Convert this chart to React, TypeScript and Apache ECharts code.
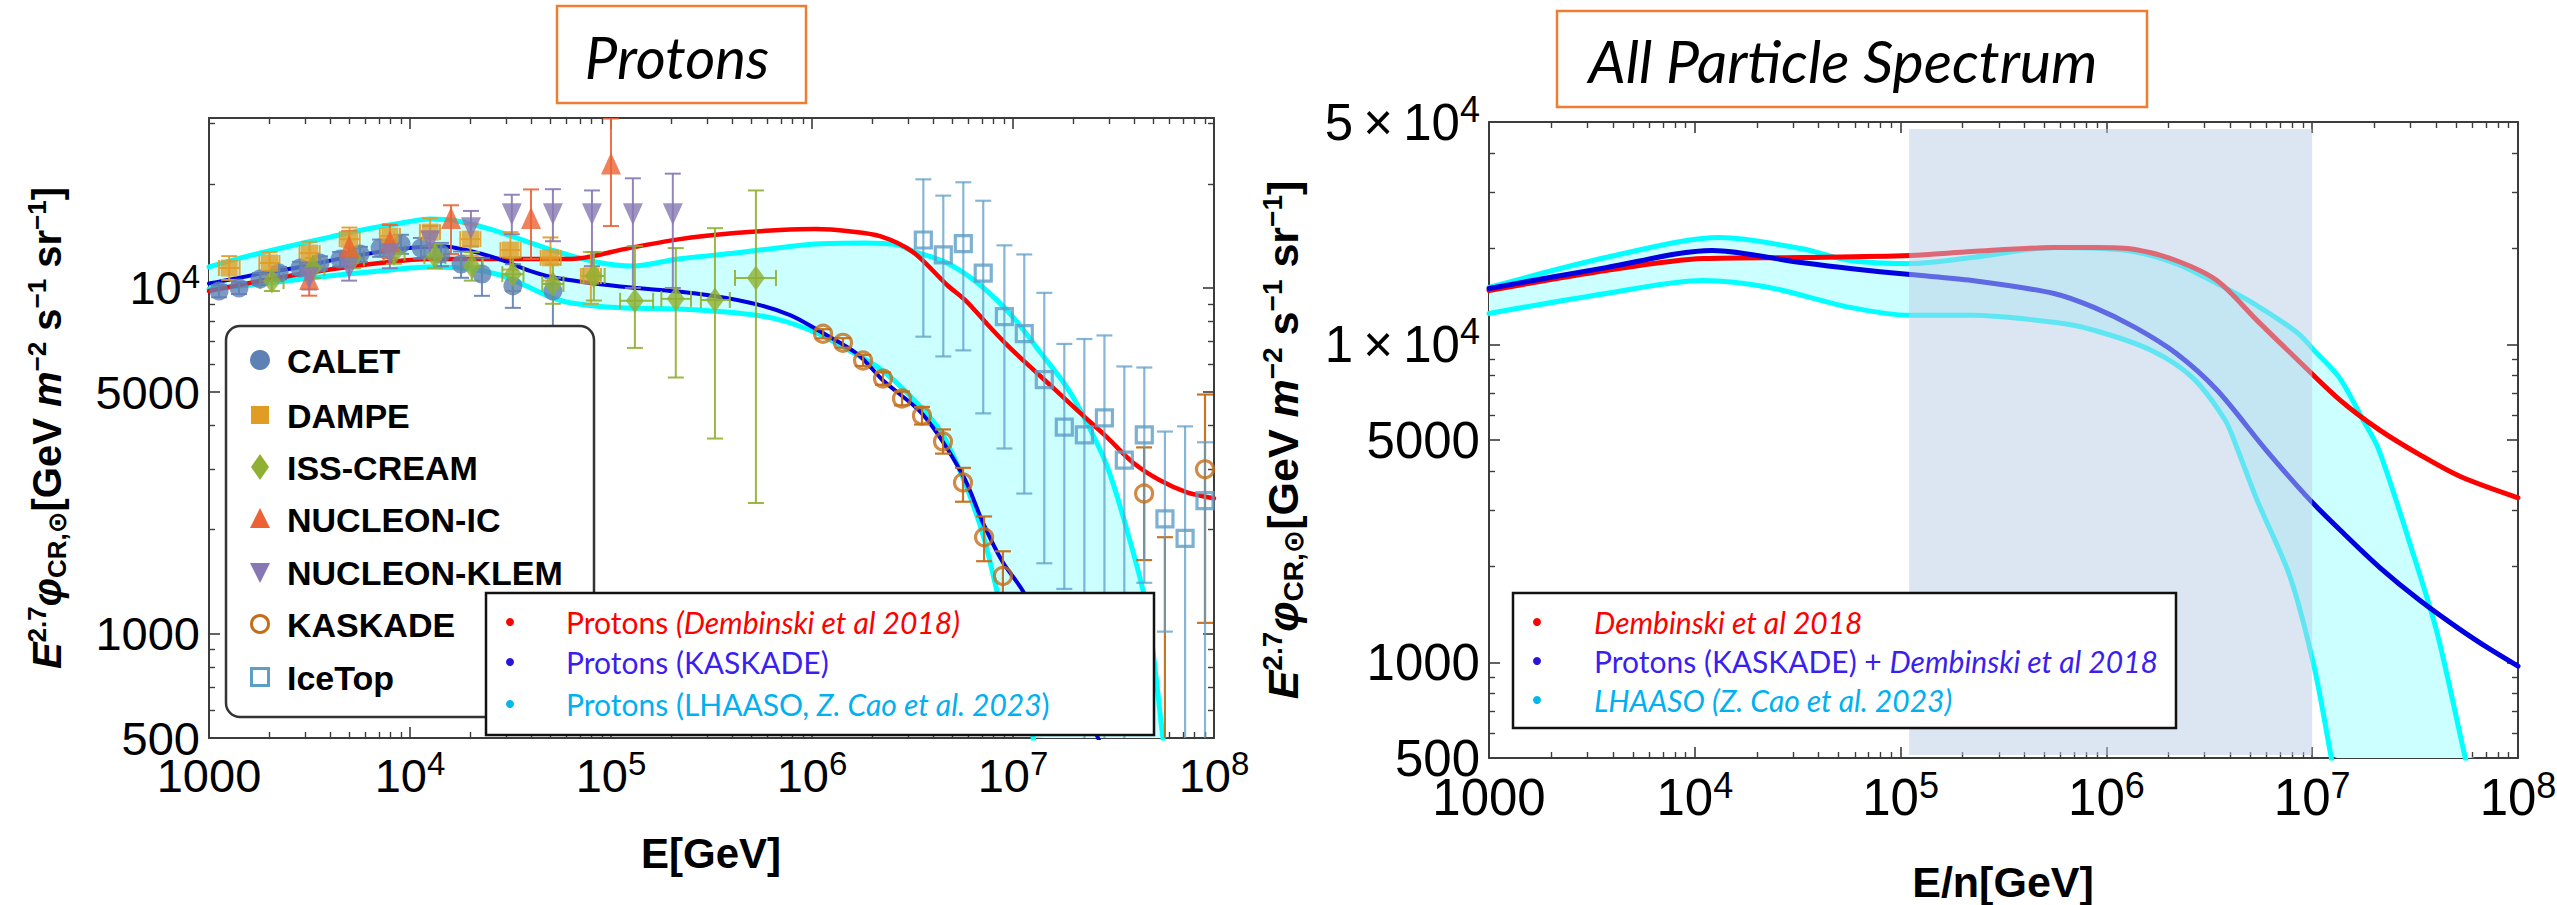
import React, { useEffect, useRef } from 'react';
import * as echarts from 'echarts';

// ---------------- axis ticks ----------------
const energyMajor = [1e3, 1e4, 1e5, 1e6, 1e7, 1e8];
const energyMinorMultipliers = [2, 3, 4, 5, 6, 7, 8, 9];
const protonFluxLabels = [500, 1000, 5000, 10000];
const protonFluxMajor = [1000, 5000, 10000];
const protonFluxMinor = [600, 700, 800, 900, 2000, 3000, 4000, 6000, 7000, 8000, 9000, 20000, 30000];
const allFluxLabels = [500, 1000, 5000, 10000, 50000];
const allFluxMajor = [1000, 5000, 10000];
const allFluxMinor = [600, 700, 800, 900, 2000, 3000, 4000, 6000, 7000, 8000, 9000, 20000, 30000, 40000];

// ---------------- left panel: protons ----------------
const protonDembinski = [
  [1000, 9800], [1795, 10470], [3565, 11200], [7100, 11810], [12590, 12130], [22800, 12130],
  [63300, 12130], [123000, 13040], [220000, 13840], [414000, 14410], [693000, 14700],
  [1.047e6, 14800], [1.528e6, 14590], [2.18e6, 14120], [3.18e6, 12700], [4.7e6, 10200],
  [5.9e6, 9120], [7.43e6, 7870], [9.33e6, 6850], [1.216e7, 5920], [1.58e7, 5150],
  [2.15e7, 4360], [2.94e7, 3700], [3.95e7, 3130], [5.38e7, 2780], [7.34e7, 2566], [1e8, 2465],
];
const protonKaskadeFit = [
  [1000, 10300], [1800, 11000], [2840, 11500], [5000, 12300], [8900, 12950], [14300, 13200],
  [19900, 12800], [28000, 12100], [39500, 11200], [52600, 10700], [111000, 10100],
  [259000, 9650], [498000, 9050], [778000, 8350], [1.05e6, 7600], [1.68e6, 6450],
  [2.26e6, 5400], [3.57e6, 4300], [5.64e6, 2870], [7.1e6, 2090], [8.9e6, 1610],
  [1.12e7, 1330], [1.71e7, 815], [2.65e7, 500], [3.5e7, 330],
];
const protonLhaasoUpper = [
  [1000, 11500], [1426, 12200], [2415, 13140], [4000, 14030], [6110, 14800], [8910, 15390],
  [12590, 15820], [17150, 15620], [25000, 14800], [35250, 13850], [52600, 12790],
  [84100, 11890], [128500, 11570], [215000, 12120], [414000, 12620], [1.047e6, 13400],
  [1.835e6, 13490], [2.68e6, 13310], [3.18e6, 12790], [4.7e6, 11810], [6.86e6, 10200],
  [1e7, 8240], [1.36e7, 6540], [1.86e7, 5150], [2.34e7, 4060], [2.94e7, 3050],
  [3.69e7, 1995], [4.64e7, 1180], [5.57e7, 501], [6.0e7, 350],
];
const protonLhaasoLower = [
  [1000, 9930], [1795, 10270], [3565, 10760], [7100, 11200], [12590, 11500], [19900, 11350],
  [28060, 10900], [36060, 10270], [49800, 9420], [63300, 9050], [110900, 8760],
  [215000, 8700], [414000, 8480], [662000, 8140], [1.047e6, 7420], [1.545e6, 6580],
  [2.18e6, 5840], [3.07e6, 4880], [4.34e6, 3870], [5.64e6, 2820], [7.1e6, 1930],
  [8.32e6, 1330], [1.023e7, 820], [1.259e7, 501], [1.44e7, 355],
];

// measurements: [E, flux, low, high, (Elow, Ehigh)]
const calet = [
  [1122, 9800, 9400, 10200], [1410, 10000, 9600, 10400], [1795, 10620, 10200, 11050],
  [2230, 11050, 10600, 11500], [2838, 11420, 10950, 11900], [3565, 11810, 11300, 12350],
  [4490, 12130, 11550, 12700], [5640, 12530, 11900, 13150], [7100, 13040, 12300, 13800],
  [9020, 13390, 12550, 14250], [11350, 13040, 12150, 13950], [14260, 12530, 11550, 13500],
  [17950, 11720, 10700, 12750], [22800, 10970, 9490, 12190], [32500, 10140, 8760, 11710],
  [51400, 9800, 7000, 10690],
];
const dampe = [
  [1260, 11420, 10550, 12360, 1120, 1420], [2000, 11810, 10950, 12700, 1780, 2240],
  [3160, 12610, 11700, 13600, 2820, 3550], [5000, 13840, 12800, 14950, 4470, 5620],
  [7940, 14130, 13000, 15300, 7080, 8910], [12600, 14500, 13200, 15900, 11200, 14100],
  [20000, 13840, 12400, 15300, 17800, 22400], [31600, 12870, 11300, 14500, 28200, 35500],
  [50000, 12220, 10500, 14000, 44700, 56200], [79400, 10830, 9000, 12700, 70800, 89100],
];
const issCream = [
  [2056, 10470, 9800, 11200, 1800, 2350], [3290, 11420, 10700, 12200, 2900, 3750],
  [5200, 12190, 11400, 13050, 4600, 5900], [8320, 12610, 11750, 13550, 7400, 9400],
  [13300, 12360, 11400, 13400, 11800, 15000], [20300, 11560, 10500, 12700, 18000, 23000],
  [32500, 10960, 9800, 12250, 28800, 36700], [51400, 10270, 9000, 11700, 45500, 58000],
  [82200, 10830, 9200, 12700, 72800, 93000], [131500, 9180, 6710, 13210, 111000, 162000],
  [210000, 9300, 5510, 13040, 178000, 250000], [329000, 9230, 3670, 14890, 280000, 390000],
  [526000, 10690, 2390, 19140, 414000, 662000],
];
const nucleonIC = [
  [3150, 10620, 9500, 11900], [4980, 13210, 11900, 14600], [7940, 13650, 12200, 15200],
  [16000, 15920, 12530, 17340], [40000, 15920, 12130, 19270], [100000, 22900, 15100, 30900],
];
const nucleonKLEM = [
  [3150, 10690, 9900, 11500], [4980, 11420, 10500, 12400], [7940, 12530, 11400, 13700],
  [12600, 13650, 12300, 15100], [20100, 14890, 13200, 16700], [32100, 16330, 14300, 18600],
  [51400, 16330, 13650, 19300], [80400, 16330, 11560, 19140], [128500, 16330, 10000, 20750],
  [203000, 16330, 10000, 21400],
];
const kaskade = [
  [1.135e6, 7370, 7150, 7600], [1.426e6, 6940, 6720, 7160], [1.795e6, 6170, 5950, 6400],
  [2.255e6, 5470, 5250, 5700], [2.805e6, 4790, 4580, 5020], [3.525e6, 4275, 4030, 4530],
  [4.485e6, 3600, 3320, 3900], [5.64e6, 2740, 2410, 3020], [7.18e6, 1903, 1622, 2185],
  [8.91e6, 1470, 1304, 1733], [1.12e7, 1097, 950, 1260], [1.41e7, 815, 680, 960],
  [4.49e7, 2545, 1634, 3460], [5.7e7, 380, 250, 1903], [9.02e7, 2990, 1076, 4920],
];
const iceTop = [
  [3.58e6, 13760, 7230, 20610], [4.5e6, 12460, 6340, 18490], [5.66e6, 13430, 6600, 20210],
  [7.11e6, 11040, 4340, 17870], [9.06e6, 8260, 3435, 13280], [1.138e7, 7375, 2545, 12500],
  [1.431e7, 5430, 1600, 9680], [1.8e7, 3960, 1349, 6890], [2.265e7, 3762, 300, 7120],
  [2.85e7, 4210, 300, 7290], [3.58e7, 3181, 300, 5930], [4.5e7, 3762, 1405, 5890],
  [5.7e7, 2150, 1015, 3845], [7.18e7, 1888, 300, 3980], [9.02e7, 2427, 300, 3580],
];

// ---------------- right panel: all particle ----------------
const allDembinski = [
  [1000, 14760], [3703, 17060], [11010, 18610], [32800, 18750], [111200, 19010],
  [222400, 19570], [556000, 20140], [870000, 20140], [1.377e6, 19860], [2.18e6, 18340],
  [3.445e6, 15870], [5.39e6, 11890], [8.53e6, 8910], [1.365e7, 6675], [2.13e7, 5370],
  [3.34e7, 4490], [5.28e7, 3830], [1e8, 3290],
];
const allKaskadeDembinski = [
  [1000, 14980], [3703, 17420], [12120, 19710], [32800, 18070], [56800, 17300],
  [111200, 16560], [222400, 15870], [556000, 14450], [870000, 13060], [1.377e6, 11300],
  [2.18e6, 9370], [3.445e6, 7180], [5.97e6, 4650], [9.75e6, 3240], [1.443e7, 2518],
  [2.13e7, 1986], [3.34e7, 1564], [5.22e7, 1269], [7.31e7, 1099], [1e8, 972],
];
const allLhaasoUpper = [
  [1000, 15090], [3703, 18740], [13260, 21650], [32800, 20000], [56800, 18340],
  [111200, 17940], [222400, 18750], [556000, 20140], [1.259e6, 19710], [2.18e6, 17940],
  [3.445e6, 15520], [5.39e6, 13240], [8.53e6, 10830], [1.02e7, 9580], [1.35e7, 7880],
  [1.766e7, 5780], [2.11e7, 4650], [3.05e7, 2260], [4.04e7, 1242], [5.52e7, 507], [6.18e7, 372],
];
const allLhaasoLower = [
  [1000, 12500], [3703, 14450], [11010, 15870], [22940, 15090], [56800, 13060],
  [111200, 12330], [222400, 12330], [556000, 11720], [870000, 11070], [1.648e6, 9580],
  [2.606e6, 7880], [3.77e6, 5780], [4.31e6, 4720], [5.39e6, 3240], [7.8e6, 1860],
  [1.02e7, 972], [1.234e7, 507], [1.32e7, 398],
];
const shadedEnergy = [1.1e5, 1e7];
const shadedFlux = [511, 47500];

// ---------------- styling ----------------
const FONT = "'Liberation Sans', Arial, 'DejaVu Sans', sans-serif";
const CAL = "Lato, 'Open Sans', 'DejaVu Sans', sans-serif";
const FRAME = '#3c3c3c';
const RED = '#ff0000';
const BLUE = '#0000e0';
const CYAN = '#00ffff';
const CYAN_FILL = '#ccffff';
const C_CALET = '#5E81B5';
const C_DAMPE = '#E19C24';
const C_ISS = '#8FB032';
const C_NIC = '#EB6235';
const C_NKL = '#8778B3';
const C_KAS = '#C56E1A';
const C_ICE = '#5D9EC7';

function labelRich(fs: number) {
  return {
    b: { fontSize: fs, fontFamily: FONT, lineHeight: Math.round(fs * 1.2), color: '#000' },
    s: { fontSize: Math.round(fs * 0.7), fontFamily: FONT, lineHeight: Math.round(fs * 0.6), verticalAlign: 'top', color: '#000' },
  };
}

function energyFormatter(v: number) {
  const p = Math.round(Math.log10(v));
  return p === 3 ? '{b|1000}' : '{b|10}{s|' + p + '}';
}

function axisSet(dim: string, gridIndex: number, min: number, max: number, majors: number[], minors: number[],
  labels: number[], formatter: any, fs: number, margin: number) {
  const common = {
    type: 'log', logBase: 10, gridIndex, min, max,
    splitLine: { show: false },
  };
  const sides = dim === 'x' ? ['bottom', 'top'] : ['left', 'right'];
  const out: any[] = [];
  sides.forEach((side, i) => {
    out.push({
      ...common, position: side,
      axisLine: { show: true, onZero: false, lineStyle: { color: FRAME, width: 2 } },
      axisTick: { show: true, inside: true, length: 11, customValues: majors, lineStyle: { color: FRAME, width: 1.6 } },
      axisLabel: i === 0
        ? { show: true, customValues: labels, formatter, rich: labelRich(fs), margin, color: '#000', fontFamily: FONT, fontSize: fs, showMinLabel: true, showMaxLabel: true, hideOverlap: false }
        : { show: false },
    });
    out.push({
      ...common, position: side,
      axisLine: { show: false, onZero: false },
      axisTick: { show: true, inside: true, length: 6, customValues: minors, lineStyle: { color: FRAME, width: 1.4 } },
      axisLabel: { show: false },
    });
  });
  return out;
}

function lineSeries(name: string, data: number[][], color: string, width: number, ax: number, z: number) {
  return {
    type: 'line', name, data, xAxisIndex: ax, yAxisIndex: ax, showSymbol: false, symbol: 'none',
    smooth: 0.3, clip: true, z, silent: true,
    lineStyle: { color, width, cap: 'round', join: 'round' },
  };
}

function bandSeries(upper: number[][], lower: number[][], ax: number) {
  return {
    type: 'custom', xAxisIndex: ax, yAxisIndex: ax, z: 1, silent: true, clip: true,
    data: [upper[0]],
    renderItem: (params: any, api: any) => {
      const cs = params.coordSys;
      const pts = upper.map((p) => api.coord(p)).concat(lower.slice().reverse().map((p) => api.coord(p)));
      const clipped = echarts.graphic.clipPointsByRect(pts, { x: cs.x, y: cs.y, width: cs.width, height: cs.height } as any);
      return { type: 'polygon', shape: { points: clipped }, style: { fill: CYAN_FILL } };
    },
  };
}

function errorBars(name: string, data: number[][], color: string, opacity: number, lw: number) {
  return {
    type: 'custom', name, xAxisIndex: 0, yAxisIndex: 0, z: 3, silent: true, clip: true,
    data,
    renderItem: (params: any, api: any) => {
      const cs = params.coordSys;
      const x0 = cs.x, x1 = cs.x + cs.width, y0 = cs.y, y1 = cs.y + cs.height;
      const e = api.value(0), f = api.value(1), lo = api.value(2), hi = api.value(3);
      const pHi = api.coord([e, hi]);
      const pLo = api.coord([e, lo]);
      const cx = pHi[0];
      const style = { stroke: color, lineWidth: lw, opacity };
      const clampY = (v: number) => Math.min(y1, Math.max(y0, v));
      const children: any[] = [];
      const cap = 8;
      if (cx >= x0 && cx <= x1) {
        children.push({ type: 'line', shape: { x1: cx, y1: clampY(pHi[1]), x2: cx, y2: clampY(pLo[1]) }, style });
        if (pHi[1] >= y0 - 1 && pHi[1] <= y1) children.push({ type: 'line', shape: { x1: cx - cap, y1: pHi[1], x2: cx + cap, y2: pHi[1] }, style });
        if (pLo[1] >= y0 && pLo[1] <= y1 + 1) children.push({ type: 'line', shape: { x1: cx - cap, y1: pLo[1], x2: cx + cap, y2: pLo[1] }, style });
      }
      const elo = api.value(4), ehi = api.value(5);
      if (elo > 0 && ehi > 0) {
        const pa = api.coord([elo, f]);
        const pb = api.coord([ehi, f]);
        children.push({ type: 'line', shape: { x1: pa[0], y1: pa[1], x2: pb[0], y2: pb[1] }, style });
        children.push({ type: 'line', shape: { x1: pa[0], y1: pa[1] - cap, x2: pa[0], y2: pa[1] + cap }, style });
        children.push({ type: 'line', shape: { x1: pb[0], y1: pb[1] - cap, x2: pb[0], y2: pb[1] + cap }, style });
      }
      return { type: 'group', children };
    },
  };
}

function scatterSeries(name: string, data: number[][], symbol: string, size: any, itemStyle: any, rotate?: number) {
  return {
    type: 'scatter', name, xAxisIndex: 0, yAxisIndex: 0, z: 4, clip: true, silent: true,
    data: data.map((d) => [d[0], d[1]]),
    symbol, symbolSize: size, symbolRotate: rotate || 0,
    itemStyle,
  };
}

function t(x: number, y: number, text: string, style: any, extra?: any) {
  return {
    type: 'text', x, y, z: 100, ...(extra || {}),
    style: { text, align: 'left', verticalAlign: 'middle', textAlign: 'left', textVerticalAlign: 'middle', fill: '#000', ...style },
  };
}

function buildOption() {
  const energyMinor: number[] = [];
  energyMajor.slice(0, 5).forEach((d) => energyMinorMultipliers.forEach((m) => energyMinor.push(m * d)));

  const leftYFormatter = (v: number) => (v === 10000 ? '{b|10}{s|4}' : '{b|' + v + '}');
  const rightYFormatter = (v: number) => {
    if (v === 10000) return '{b|1\u2009×\u200910}{s|4}';
    if (v === 50000) return '{b|5\u2009×\u200910}{s|4}';
    return '{b|' + v + '}';
  };

  const xAxes = [
    ...axisSet('x', 0, 1e3, 1e8, energyMajor, energyMinor, energyMajor, energyFormatter, 47, 9),
    ...axisSet('x', 1, 1e3, 1e8, energyMajor, energyMinor, energyMajor, energyFormatter, 51, 9),
  ];
  const yAxes = [
    ...axisSet('y', 0, 500, 31000, protonFluxMajor, protonFluxMinor, protonFluxLabels, leftYFormatter, 47, 9),
    ...axisSet('y', 1, 500, 50000, allFluxMajor, allFluxMinor, allFluxLabels, rightYFormatter, 51, 9),
  ];

  const titleRich = (fs: number) => ({
    e: { fontSize: fs, fontFamily: FONT, fontWeight: 'bold', fontStyle: 'italic', fill: '#000', color: '#000', lineHeight: fs * 1.15 },
    b: { fontSize: fs, fontFamily: FONT, fontWeight: 'bold', fill: '#000', color: '#000', lineHeight: fs * 1.15 },
    p: { fontSize: Math.round(fs * 0.64), fontFamily: FONT, fontWeight: 'bold', fill: '#000', color: '#000', lineHeight: Math.round(fs * 0.64), verticalAlign: 'top' },
    d: { fontSize: Math.round(fs * 0.64), fontFamily: FONT, fontWeight: 'bold', fill: '#000', color: '#000', lineHeight: Math.round(fs * 0.64), verticalAlign: 'bottom' },
  });
  const yTitle = '{e|E}{p|2.7}{e|φ}{d|CR,⊙}{b|[GeV }{e|m}{p|−2}{b| s}{p|−1}{b| sr}{p|−1}{b|]}';

  const LF = 30;
  const legRich = {
    r: { fontSize: LF, fontFamily: CAL, fill: RED, color: RED, lineHeight: 36 },
    ri: { fontSize: LF, fontFamily: CAL, fontStyle: 'italic', fill: RED, color: RED, lineHeight: 36 },
    b: { fontSize: LF, fontFamily: CAL, fill: '#3a1ff0', color: '#3a1ff0', lineHeight: 36 },
    bi: { fontSize: LF, fontFamily: CAL, fontStyle: 'italic', fill: '#3a1ff0', color: '#3a1ff0', lineHeight: 36 },
    c: { fontSize: LF, fontFamily: CAL, fill: '#00b0f0', color: '#00b0f0', lineHeight: 36 },
    ci: { fontSize: LF, fontFamily: CAL, fontStyle: 'italic', fill: '#00b0f0', color: '#00b0f0', lineHeight: 36 },
  };

  const legendFont = { fontSize: 34, fontFamily: FONT, fontWeight: 'bold' };
  const legRows = [360, 415, 467, 519, 572, 624, 677];
  const lx = 260;

  const graphic: any[] = [
    // titles
    { type: 'rect', z: 100, shape: { x: 557, y: 6, width: 249, height: 97 }, style: { fill: '#fff', stroke: '#ED7D31', lineWidth: 2.5 } },
    t(677, 56, 'Protons', { fontSize: 58, fontFamily: CAL, fontStyle: 'italic', align: 'center', textAlign: 'center' }),
    { type: 'rect', z: 100, shape: { x: 1557, y: 11, width: 590, height: 96 }, style: { fill: '#fff', stroke: '#ED7D31', lineWidth: 2.5 } },
    t(1843, 60, 'All Particle Spectrum', { fontSize: 59, fontFamily: CAL, fontStyle: 'italic', align: 'center', textAlign: 'center' }),
    // axis titles
    t(711, 853, 'E[GeV]', { fontSize: 42, fontFamily: FONT, fontWeight: 'bold', align: 'center', textAlign: 'center' }),
    t(2003, 882, 'E/n[GeV]', { fontSize: 43, fontFamily: FONT, fontWeight: 'bold', align: 'center', textAlign: 'center' }),
    t(47, 428, yTitle, { rich: titleRich(40), align: 'center', textAlign: 'center' }, { rotation: Math.PI / 2 }),
    t(1283, 440, yTitle, { rich: titleRich(43), align: 'center', textAlign: 'center' }, { rotation: Math.PI / 2 }),
    // left data legend
    { type: 'rect', z: 100, shape: { x: 226, y: 326, width: 368, height: 391, r: 14 }, style: { fill: '#fff', stroke: '#333', lineWidth: 2.5 } },
    { type: 'circle', z: 101, shape: { cx: lx, cy: legRows[0], r: 10 }, style: { fill: C_CALET } },
    { type: 'rect', z: 101, shape: { x: lx - 9, y: legRows[1] - 9, width: 18, height: 18 }, style: { fill: C_DAMPE } },
    { type: 'polygon', z: 101, shape: { points: [[lx, legRows[2] - 13], [lx + 9, legRows[2]], [lx, legRows[2] + 13], [lx - 9, legRows[2]]] }, style: { fill: C_ISS } },
    { type: 'polygon', z: 101, shape: { points: [[lx, legRows[3] - 11], [lx + 10, legRows[3] + 9], [lx - 10, legRows[3] + 9]] }, style: { fill: C_NIC } },
    { type: 'polygon', z: 101, shape: { points: [[lx, legRows[4] + 11], [lx + 10, legRows[4] - 9], [lx - 10, legRows[4] - 9]] }, style: { fill: C_NKL } },
    { type: 'circle', z: 101, shape: { cx: lx, cy: legRows[5], r: 8.5 }, style: { fill: 'none', stroke: C_KAS, lineWidth: 3 } },
    { type: 'rect', z: 101, shape: { x: lx - 8.5, y: legRows[6] - 8.5, width: 17, height: 17 }, style: { fill: 'none', stroke: C_ICE, lineWidth: 3 } },
    ...['CALET', 'DAMPE', 'ISS-CREAM', 'NUCLEON-IC', 'NUCLEON-KLEM', 'KASKADE', 'IceTop'].map((s, i) =>
      t(287, legRows[i] + 1, s, legendFont, { z: 101 })),
    // left model legend
    { type: 'rect', z: 100, shape: { x: 486, y: 593, width: 668, height: 142 }, style: { fill: '#fff', stroke: '#111', lineWidth: 2.5 } },
    { type: 'circle', z: 101, shape: { cx: 510, cy: 622, r: 4 }, style: { fill: RED } },
    { type: 'circle', z: 101, shape: { cx: 510, cy: 662, r: 4 }, style: { fill: '#2a14d8' } },
    { type: 'circle', z: 101, shape: { cx: 510, cy: 704, r: 4 }, style: { fill: '#00b8f0' } },
    t(566, 622, '{r|Protons }{ri|(Dembinski et al 2018)}', { rich: legRich }, { z: 101 }),
    t(566, 662, '{b|Protons (KASKADE)}', { rich: legRich }, { z: 101 }),
    t(566, 704, '{c|Protons (LHAASO, }{ci|Z. Cao et al. 2023}{c|)}', { rich: legRich }, { z: 101 }),
    // right legend
    { type: 'rect', z: 100, shape: { x: 1513, y: 593, width: 663, height: 135 }, style: { fill: '#fff', stroke: '#111', lineWidth: 2.5 } },
    { type: 'circle', z: 101, shape: { cx: 1537, cy: 622, r: 4 }, style: { fill: RED } },
    { type: 'circle', z: 101, shape: { cx: 1537, cy: 661, r: 4 }, style: { fill: '#2a14d8' } },
    { type: 'circle', z: 101, shape: { cx: 1537, cy: 700, r: 4 }, style: { fill: '#00b8f0' } },
    t(1594, 622, '{ri|Dembinski et al 2018}', { rich: legRich }, { z: 101 }),
    t(1594, 661, '{b|Protons (KASKADE) + }{bi|Dembinski et al 2018}', { rich: legRich }, { z: 101 }),
    t(1594, 700, '{ci|LHAASO (Z. Cao et al. 2023)}', { rich: legRich }, { z: 101 }),
  ];

  const series: any[] = [
    // left
    bandSeries(protonLhaasoUpper, protonLhaasoLower, 0),
    lineSeries('LHAASO upper', protonLhaasoUpper, CYAN, 5, 0, 2),
    lineSeries('LHAASO lower', protonLhaasoLower, CYAN, 5, 0, 2),
    lineSeries('Protons (Dembinski et al 2018)', protonDembinski, RED, 4.5, 0, 2),
    lineSeries('Protons (KASKADE)', protonKaskadeFit, BLUE, 4, 0, 2),
    errorBars('CALET err', calet, C_CALET, 0.9, 2),
    errorBars('DAMPE err', dampe, C_DAMPE, 0.9, 2),
    errorBars('ISS-CREAM err', issCream, C_ISS, 0.9, 2),
    errorBars('NUCLEON-IC err', nucleonIC, C_NIC, 0.9, 2),
    errorBars('NUCLEON-KLEM err', nucleonKLEM, C_NKL, 0.9, 2),
    errorBars('KASKADE err', kaskade, C_KAS, 0.95, 2.2),
    errorBars('IceTop err', iceTop, C_ICE, 0.75, 2.2),
    scatterSeries('CALET', calet, 'circle', 19, { color: C_CALET }),
    scatterSeries('DAMPE', dampe, 'rect', 17, { color: C_DAMPE }),
    scatterSeries('ISS-CREAM', issCream, 'diamond', [18, 25], { color: C_ISS }),
    scatterSeries('NUCLEON-IC', nucleonIC, 'triangle', [20, 22], { color: C_NIC }),
    scatterSeries('NUCLEON-KLEM', nucleonKLEM, 'triangle', [20, 22], { color: C_NKL }, 180),
    scatterSeries('KASKADE', kaskade, 'circle', 17, { color: 'rgba(255,255,255,0)', borderColor: C_KAS, borderWidth: 3.2 }),
    scatterSeries('IceTop', iceTop, 'rect', 16, { color: 'rgba(255,255,255,0)', borderColor: C_ICE, borderWidth: 3.2 }),
    // right
    bandSeries(allLhaasoUpper, allLhaasoLower, 4),
    lineSeries('LHAASO upper (all)', allLhaasoUpper, CYAN, 5, 4, 2),
    lineSeries('LHAASO lower (all)', allLhaasoLower, CYAN, 5, 4, 2),
    lineSeries('Dembinski et al 2018', allDembinski, RED, 5, 4, 2),
    lineSeries('Protons (KASKADE) + Dembinski et al 2018', allKaskadeDembinski, BLUE, 5, 4, 2),
    {
      type: 'custom', xAxisIndex: 4, yAxisIndex: 4, z: 6, silent: true, clip: true,
      data: [[shadedEnergy[0], shadedFlux[0]]],
      renderItem: (params: any, api: any) => {
        const a = api.coord([shadedEnergy[0], shadedFlux[1]]);
        const b = api.coord([shadedEnergy[1], shadedFlux[0]]);
        return { type: 'rect', shape: { x: a[0], y: a[1], width: b[0] - a[0], height: b[1] - a[1] }, style: { fill: 'rgba(186,206,229,0.51)' } };
      },
    },
  ];

  return {
    animation: false,
    backgroundColor: '#ffffff',
    grid: [
      { left: 209, top: 118, width: 1005, height: 620, outerBoundsMode: 'none', containLabel: false },
      { left: 1489, top: 122, width: 1029, height: 636, outerBoundsMode: 'none', containLabel: false },
    ],
    xAxis: xAxes,
    yAxis: yAxes,
    series,
    graphic,
  };
}

export default function App() {
  const ref = useRef<HTMLDivElement>(null);
  useEffect(() => {
    if (!ref.current) return;
    const chart = echarts.init(ref.current, null, { renderer: 'svg' });
    chart.setOption(buildOption() as any);
    return () => chart.dispose();
  }, []);
  return (
    <div
      ref={ref}
      style={{ position: 'fixed', left: 0, top: 0, width: 2557, height: 905, background: '#fff' }}
    />
  );
}
